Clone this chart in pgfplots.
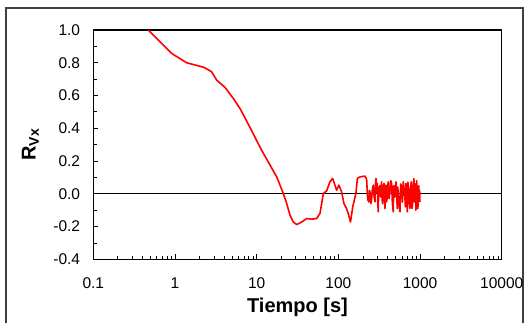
\documentclass[border=0pt]{standalone}
\usepackage{pgfplots}
\pgfplotsset{compat=1.18}
\usepackage{fontspec}
\setmainfont{Liberation Sans}
\begin{document}
\begin{tikzpicture}
\useasboundingbox (-93.3pt,-62.7pt) rectangle (432.7pt,259.3pt);
\draw[line width=1.3pt, black!75] (-87.3pt,-75pt) -- (-87.3pt,251.3pt) -- (429.7pt,251.3pt) -- (429.7pt,-75pt);
\begin{axis}[
  at={(0,0)}, anchor=south west,
  scale only axis, width=408.4pt, height=229.3pt,
  xmode=log, xmin=0.1, xmax=10000, ymin=-0.4, ymax=1.0,
  xtick={0.1,1,10,100,1000,10000},
  xticklabels={0.1,1,10,100,1000,10000},
  ytick={-0.4,-0.2,0,0.2,0.4,0.6,0.8,1.0},
  minor y tick num=1,
  xtick pos=left, ytick pos=left, tick align=inside,
  major tick length=5pt, minor tick length=3.5pt,
  every tick/.style={black, line width=0.8pt},
  axis line style={line width=1.1pt},
  y tick label style={/pgf/number format/fixed, /pgf/number format/fixed zerofill, /pgf/number format/precision=1},
  tick label style={font=\fontsize{15.5}{18}\selectfont},
  xticklabel style={anchor=center, yshift=-24pt},
  yticklabel style={anchor=east, inner sep=0pt, xshift=-13pt},
  /pgf/number format/assume math mode=true,
  xlabel={\textbf{Tiempo [s]}},
  ylabel={\textbf{R\textsubscript{Vx}}},
  xlabel style={font=\fontsize{20}{24}\selectfont, at={(axis description cs:0.5,-0.209)}, anchor=center},
  ylabel style={font=\fontsize{20}{24}\selectfont, at={(axis description cs:-0.154,0.5)}, anchor=center},
  clip=true,
]
\addplot[black, line width=0.8pt] coordinates {(0.1,0) (10000,0)};
\addplot[red, line width=1.6pt, line join=round] coordinates {
(0.471,1.0) (0.655,0.929) (0.91,0.857) (1.39,0.80) (2.26,0.772) (2.81,0.745)
(3.24,0.694) (4.09,0.65) (5.18,0.582) (6.25,0.521) (7.33,0.456) (9,0.37) (10,0.325)
(11.5,0.266) (14.6,0.175) (17.6,0.103) (21.2,0.002) (23.3,-0.059) (25.6,-0.131)
(28.1,-0.172) (30.9,-0.188) (33.9,-0.178) (37.2,-0.166) (40.9,-0.151) (47.1,-0.155)
(54.2,-0.151) (59.6,-0.12) (62.5,-0.059) (65.5,0.002) (71.9,0.018) (78.9,0.073)
(85.1,0.094) (90.8,0.053) (95.3,0.022) (101.6,0.053) (109.6,0.012) (117,-0.059)
(126,-0.09) (132,-0.12) (141,-0.172) (150,-0.08) (155,-0.05) (164,0.002)
(171,0.094) (184,0.103) (212,0.108) (222,0.09)
(226,0.012) (229,-0.04) (232,-0.019) (235,-0.05) (238,-0.039) (241,0.02) (244,0.012)
(250,-0.06) (255,-0.039) (261,0.03) (268,0.053) (274,-0.02)
(281,-0.049) (285,0.06) (289,0.093) (294,0.01) (300,0.063) (304,-0.05) (308,-0.11) (312,0.04) (317,0.022) (323,0.05) (329,-0.019)
(334,0.04) (339,0.073) (343,-0.03) (348,-0.06) (355,0.03) (362,0.063) (367,-0.04) (372,-0.09) (377,0.02) (383,0.053) (390,-0.05) (397,-0.019)
(402,0.05) (408,0.073) (418,-0.03) (428,0.012) (438,0.08) (449,0.063) (459,-0.06) (470,-0.11) (477,0.05) (484,0.032) (495,-0.02) (507,0.073)
(516,0.02) (526,-0.09) (534,0.04) (542,0.002) (555,-0.07) (568,-0.11) (580,0.06) (595,0.042) (610,-0.05) (624,0.073) (638,0.03) (653,-0.019)
(662,-0.08) (672,0.063) (685,0.02) (698,-0.11) (711,0.07) (724,0.022) (738,-0.06) (752,-0.09) (766,0.04) (781,0.073) (796,-0.09) (811,-0.06)
(826,0.05) (842,0.093) (854,-0.05) (867,0.002) (879,0.06) (891,-0.1) (908,0.08) (925,0.022) (938,-0.09) (951,-0.06) (965,0.05) (979,-0.019) (990,0.02) (998,-0.049)
};
\end{axis}
\end{tikzpicture}
\end{document}
